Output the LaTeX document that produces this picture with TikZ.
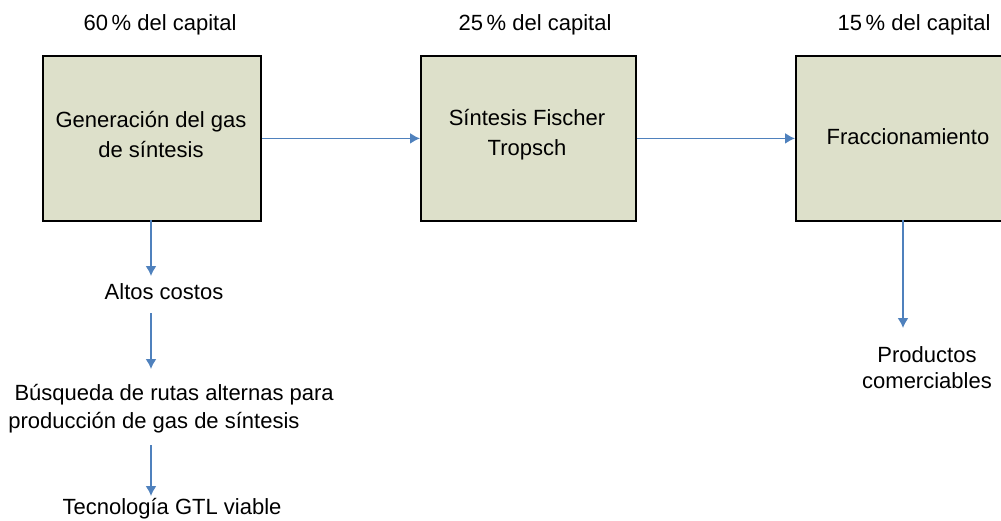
\documentclass[tikz,border=0pt]{standalone}
\usepackage{fontspec}
\setmainfont{Liberation Sans}
\usetikzlibrary{arrows.meta}
\definecolor{boxfill}{RGB}{221,224,202}
\definecolor{arrowblue}{RGB}{79,129,189}
\begin{document}
\begin{tikzpicture}[x=0.5pt,y=-0.5pt,
  stagebox/.style={draw=black,line width=0.9pt,fill=boxfill,minimum width=109pt,minimum height=82.5pt,inner sep=0pt,anchor=north west},
  lbl/.style={font=\fontsize{11}{14}\selectfont,inner sep=0pt,align=center},
  flow/.style={draw=arrowblue,line width=0.8pt,-{Latex[length=5pt,width=5.5pt]}}]
\useasboundingbox (0,0) rectangle (1001,520);
\node[stagebox] (b1) at (42,55) {};
\node[stagebox,minimum width=107.5pt] (b2) at (420,55) {};
\node[stagebox,minimum width=104pt] (b3) at (795,55) {};
\node[lbl] (t1) at (160,25) {60\,\% del capital};
\node[lbl] (t2) at (535,25) {25\,\% del capital};
\node[lbl] (t3) at (914,25) {15\,\% del capital};
\node[lbl,font=\fontsize{11}{15}\selectfont] (g1) at (151,135) {Generación del gas\\de síntesis};
\node[lbl,font=\fontsize{11}{15}\selectfont] (g2) at (527,135) {Síntesis Fischer\\Tropsch};
\node[lbl] (g3) at (908,137) {Fraccionamiento};
\coordinate (a1s) at (151,220);
\coordinate (a1e) at (151,276);
\node[lbl] (alt) at (164,292) {Altos costos};
\coordinate (a2s) at (151,313);
\coordinate (a2e) at (151,369);
\node[lbl,align=left,anchor=west] (bus) at (8,409) {\ Búsqueda de rutas alternas para\\producción de gas de síntesis};
\coordinate (a3s) at (151,445);
\coordinate (a3e) at (151,496);
\node[lbl] (tec) at (172,509) {Tecnología GTL viable};
\coordinate (a4s) at (903,220);
\coordinate (a4e) at (903,328);
\node[lbl,font=\fontsize{11}{13}\selectfont] (prod) at (927,368) {Productos\\comerciables};
\draw[flow] (b1.east) -- (b2.west);
\draw[flow] (b2.east) -- (b3.west);
\draw[flow] (a1s) -- (a1e);
\draw[flow] (a2s) -- (a2e);
\draw[flow] (a3s) -- (a3e);
\draw[flow] (a4s) -- (a4e);
\end{tikzpicture}
\end{document}
